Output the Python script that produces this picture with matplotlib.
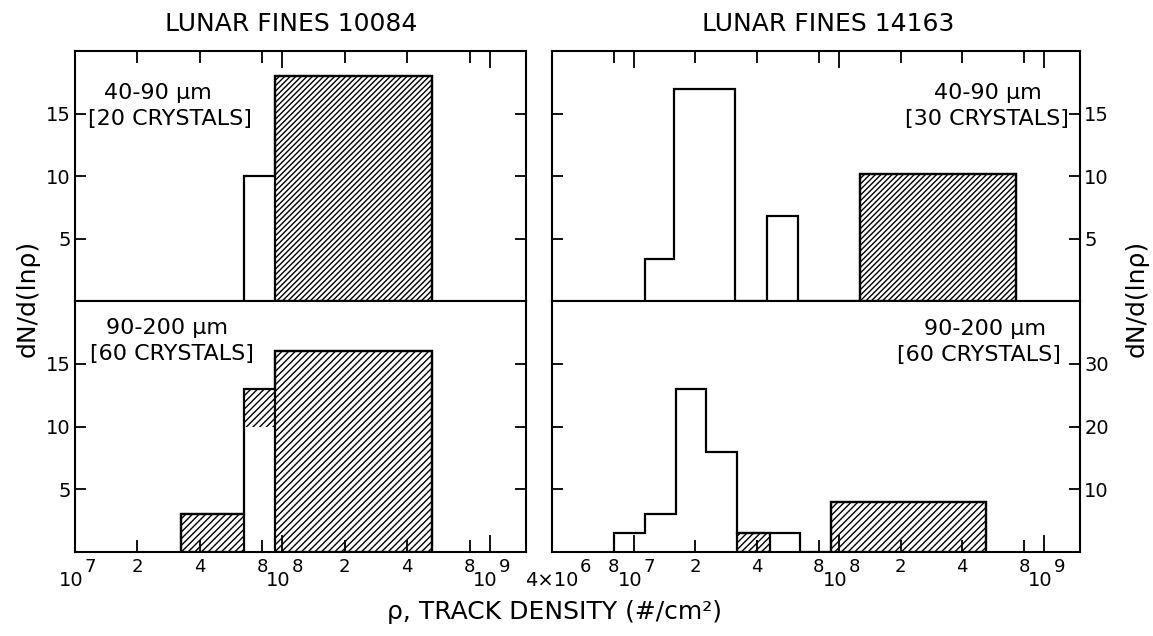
import numpy as np
import matplotlib
matplotlib.use("Agg")
import matplotlib.pyplot as plt
from matplotlib.ticker import FixedLocator, NullFormatter

plt.rcParams['font.family'] = ['DejaVu Sans']
plt.rcParams['hatch.linewidth'] = 1.0

# --- LUNAR FINES 10084 ---
# 40-90 um: bin edges (tracks/cm^2), dN/d(ln rho), part of the bin without tracks-in-crystal (open)
a_lo = [6.5e7, 9.2e7]
a_hi = [9.2e7, 5.3e8]
a_n = [10, 18]
a_open = [10, 0]
# 90-200 um
b_lo = [3.25e7, 6.5e7, 9.2e7]
b_hi = [6.5e7, 9.2e7, 5.3e8]
b_n = [3, 13, 16]
b_open = [0, 10, 0]

# --- LUNAR FINES 14163 ---
# 40-90 um
c_lo = [1.13e7, 1.57e7, 4.45e7, 1.27e8]
c_hi = [1.57e7, 3.13e7, 6.35e7, 7.3e8]
c_n = [3.4, 17, 6.8, 10.2]
c_open = [3.4, 17, 6.8, 0]
# 90-200 um
d_lo = [8e6, 1.13e7, 1.6e7, 2.26e7, 3.2e7, 4.6e7, 9.2e7]
d_hi = [1.13e7, 1.6e7, 2.26e7, 3.2e7, 4.6e7, 6.5e7, 5.2e8]
d_n = [3, 6, 26, 16, 3, 3, 8]
d_open = [3, 6, 26, 16, 0, 3, 0]

titles = ["LUNAR FINES 10084", "LUNAR FINES 14163"]
size_labels = ["40-90 μm", "90-200 μm"]
crystal_labels = [["[20 CRYSTALS]", "[60 CRYSTALS]"], ["[30 CRYSTALS]", "[60 CRYSTALS]"]]

left_xlim = (1e7, 1.5e9)
right_xlim = (4e6, 1.5e9)
left_yticks = [[5, 10, 15], [5, 10, 15]]
right_yticks = [[5, 10, 15], [10, 20, 30]]
right_ylim = [20, 40]

decades = [1e7, 1e8, 1e9]
minors = [m * d for d in [1e6, 1e7, 1e8] for m in (2, 4, 8)]

# labels under the bottom axes: (value, text, exponent)
left_xlabels = [(1e7, "10", "7"), (2e7, "2", None), (4e7, "4", None), (8e7, "8", None),
                (1e8, "10", "8"), (2e8, "2", None), (4e8, "4", None), (8e8, "8", None),
                (1e9, "10", "9")]
right_xlabels = [(8e6, "8", None), (1e7, "10", "7"), (2e7, "2", None), (4e7, "4", None),
                 (8e7, "8", None), (1e8, "10", "8"), (2e8, "2", None), (4e8, "4", None),
                 (8e8, "8", None), (1e9, "10", "9")]

LW = 1.6
TXT = 16


def draw_hist(ax, lo, hi, n, n_open, hatch):
    # outer outline of the histogram
    edges, vals = [lo[0]], []
    for i in range(len(lo)):
        if not np.isclose(edges[-1], lo[i]):
            vals.append(0)
            edges.append(lo[i])
        vals.append(n[i])
        edges.append(hi[i])
    ax.stairs(vals, edges, baseline=0, color='black', lw=LW, zorder=3)
    # hatched part of each bin
    for l, h, v, o in zip(lo, hi, n, n_open):
        if v > o:
            ax.bar(l, v - o, width=h - l, bottom=o, align='edge', fill=False,
                   hatch=hatch, edgecolor='black', lw=LW if o == 0 else 0, zorder=2)


def style_axes(ax, top, xlim, ylim, yticks, right):
    ax.set_xscale('log')
    ax.set_xlim(*xlim)
    ax.set_ylim(0, ylim)
    for s in ax.spines.values():
        s.set_linewidth(1.5)
    ax.xaxis.set_major_locator(FixedLocator(decades))
    ax.xaxis.set_minor_locator(FixedLocator([m for m in minors if xlim[0] < m < xlim[1]]))
    ax.xaxis.set_minor_formatter(NullFormatter())
    ax.tick_params(axis='x', which='both', direction='in', width=1.3,
                   top=top, bottom=not top, labeltop=False, labelbottom=False)
    ax.tick_params(axis='x', which='major', length=12)
    ax.tick_params(axis='x', which='minor', length=8.5)
    ax.yaxis.set_major_locator(FixedLocator(yticks))
    ax.yaxis.set_minor_locator(FixedLocator([]))
    ax.tick_params(axis='y', which='major', direction='in', length=8, width=1.3,
                   left=True, right=True, labelleft=not right, labelright=right,
                   labelsize=14, pad=3)


def bottom_labels(ax, marks):
    tr = ax.get_xaxis_transform()
    for v, txt, ex in marks:
        if ex is None:
            ax.annotate(txt, (v, 0), xycoords=tr, xytext=(0, -4), textcoords='offset points',
                        ha='center', va='top', fontsize=13)
        else:
            ax.annotate(txt, (v, 0), xycoords=tr, xytext=(6, -14), textcoords='offset points',
                        ha='right', va='top', fontsize=14)
            ax.annotate(ex, (v, 0), xycoords=tr, xytext=(7, -4), textcoords='offset points',
                        ha='left', va='top', fontsize=13)


fig = plt.figure(figsize=(11.53, 6.36), dpi=100)
ax_a = fig.add_axes([0.0651, 0.5267, 0.3912, 0.3931])
ax_b = fig.add_axes([0.0651, 0.1321, 0.3912, 0.3946])
ax_c = fig.add_axes([0.4788, 0.5267, 0.4579, 0.3931])
ax_d = fig.add_axes([0.4788, 0.1321, 0.4579, 0.3946])

draw_hist(ax_a, a_lo, a_hi, a_n, a_open, '//////')
draw_hist(ax_b, b_lo, b_hi, b_n, b_open, '/////')
draw_hist(ax_c, c_lo, c_hi, c_n, c_open, '//////')
draw_hist(ax_d, d_lo, d_hi, d_n, d_open, '/////')

style_axes(ax_a, True, left_xlim, 20, left_yticks[0], False)
style_axes(ax_b, False, left_xlim, 20, left_yticks[1], False)
style_axes(ax_c, True, right_xlim, right_ylim[0], right_yticks[0], True)
style_axes(ax_d, False, right_xlim, right_ylim[1], right_yticks[1], True)

bottom_labels(ax_b, left_xlabels)
bottom_labels(ax_d, right_xlabels)
tr = ax_d.get_xaxis_transform()
ax_d.annotate("4×10", (right_xlim[0], 0), xycoords=tr, xytext=(19, -14), textcoords='offset points',
              ha='right', va='top', fontsize=14)
ax_d.annotate("6", (right_xlim[0], 0), xycoords=tr, xytext=(20, -4), textcoords='offset points',
              ha='left', va='top', fontsize=13)

# size range / number of crystals
ax_a.text(0.184, 0.832, size_labels[0], transform=ax_a.transAxes, ha='center', va='center', fontsize=TXT)
ax_a.text(0.211, 0.728, crystal_labels[0][0], transform=ax_a.transAxes, ha='center', va='center', fontsize=TXT)
ax_b.text(0.204, 0.892, size_labels[1], transform=ax_b.transAxes, ha='center', va='center', fontsize=TXT)
ax_b.text(0.215, 0.789, crystal_labels[0][1], transform=ax_b.transAxes, ha='center', va='center', fontsize=TXT)
ax_c.text(0.826, 0.832, size_labels[0], transform=ax_c.transAxes, ha='center', va='center', fontsize=TXT)
ax_c.text(0.824, 0.728, crystal_labels[1][0], transform=ax_c.transAxes, ha='center', va='center', fontsize=TXT)
ax_d.text(0.82, 0.888, size_labels[1], transform=ax_d.transAxes, ha='center', va='center', fontsize=TXT)
ax_d.text(0.809, 0.785, crystal_labels[1][1], transform=ax_d.transAxes, ha='center', va='center', fontsize=TXT)

fig.text(0.2524, 0.962, titles[0], ha='center', va='center', fontsize=18)
fig.text(0.718, 0.962, titles[1], ha='center', va='center', fontsize=18)
fig.text(0.0243, 0.531, "dN/d(lnρ)", rotation=90, ha='center', va='center', fontsize=18)
fig.text(0.986, 0.531, "dN/d(lnρ)", rotation=90, ha='center', va='center', fontsize=18)
fig.text(0.4813, 0.0377, "ρ, TRACK DENSITY (#/cm²)", ha='center', va='center', fontsize=18)

fig.savefig("out.png", dpi=100)
